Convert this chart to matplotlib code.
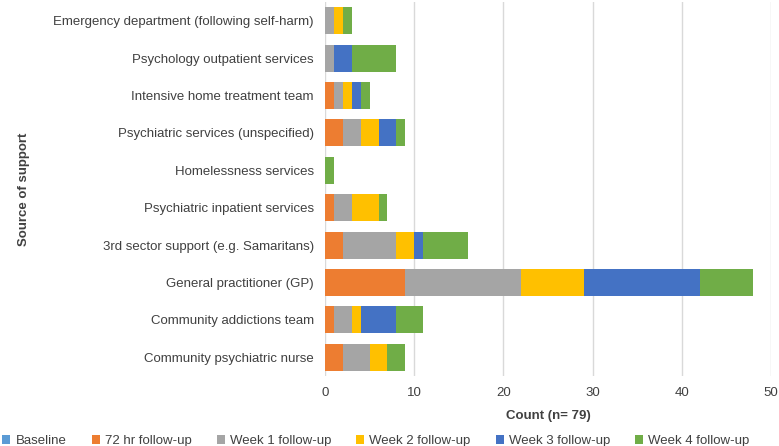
import numpy as np
import matplotlib
matplotlib.use("Agg")
import matplotlib.pyplot as plt

plt.rcParams['font.family'] = ['Liberation Sans', 'DejaVu Sans']

# categories listed bottom to top
categories = [
    "Community psychiatric nurse",
    "Community addictions team",
    "General practitioner (GP)",
    "3rd sector support (e.g. Samaritans)",
    "Psychiatric inpatient services",
    "Homelessness services",
    "Psychiatric services (unspecified)",
    "Intensive home treatment team",
    "Psychology outpatient services",
    "Emergency department (following self-harm)",
]
series_names = ["Baseline", "72 hr follow-up", "Week 1 follow-up",
                "Week 2 follow-up", "Week 3 follow-up", "Week 4 follow-up"]
baseline = [0, 0, 0, 0, 0, 0, 0, 0, 0, 0]
hr72 = [2, 1, 9, 2, 1, 0, 2, 1, 0, 0]
week1 = [3, 2, 13, 6, 2, 0, 2, 1, 1, 1]
week2 = [2, 1, 7, 2, 3, 0, 2, 1, 0, 1]
week3 = [0, 4, 13, 1, 0, 0, 2, 1, 2, 0]
week4 = [2, 3, 6, 5, 1, 1, 1, 1, 5, 1]
colors = ["#5B9BD5", "#ED7D31", "#A5A5A5", "#FFC000", "#4472C4", "#70AD47"]

fig = plt.figure(figsize=(7.79, 4.46), dpi=100)
ax = fig.add_axes([325 / 779, 1 - 376 / 446, (771 - 325) / 779, 374 / 446])

y = np.arange(len(categories))
left = np.zeros(len(categories))
for name, vals, c in zip(series_names, [baseline, hr72, week1, week2, week3, week4], colors):
    vals = np.array(vals, dtype=float)
    ax.barh(y, vals, left=left, height=0.72, color=c, label=name)
    left += vals

ax.set_xlim(0, 50)
ax.set_ylim(-0.5, len(categories) - 0.5)
ax.set_xticks(range(0, 51, 10))
ax.set_yticks(y)
ax.set_yticklabels(categories)
ax.grid(axis='x', color='#D9D9D9', linewidth=1)
ax.set_axisbelow(True)
for s in ax.spines.values():
    s.set_visible(False)
ax.tick_params(length=0, labelsize=9.5, colors='#404040', pad=8)
ax.set_xlabel("Count (n= 79)", fontsize=9.5, fontweight='bold', color='#404040', labelpad=8)
ax.set_ylabel("Source of support", fontsize=9.5, fontweight='bold', color='#404040', labelpad=17)

fig.legend(loc='lower left', bbox_to_anchor=(-0.007, -0.02), ncol=6, frameon=False,
           fontsize=9.5, handlelength=0.6, handleheight=0.6, columnspacing=1.9,
           handletextpad=0.4, labelcolor='#404040', borderaxespad=0.2)

fig.savefig("out.png", dpi=100)
